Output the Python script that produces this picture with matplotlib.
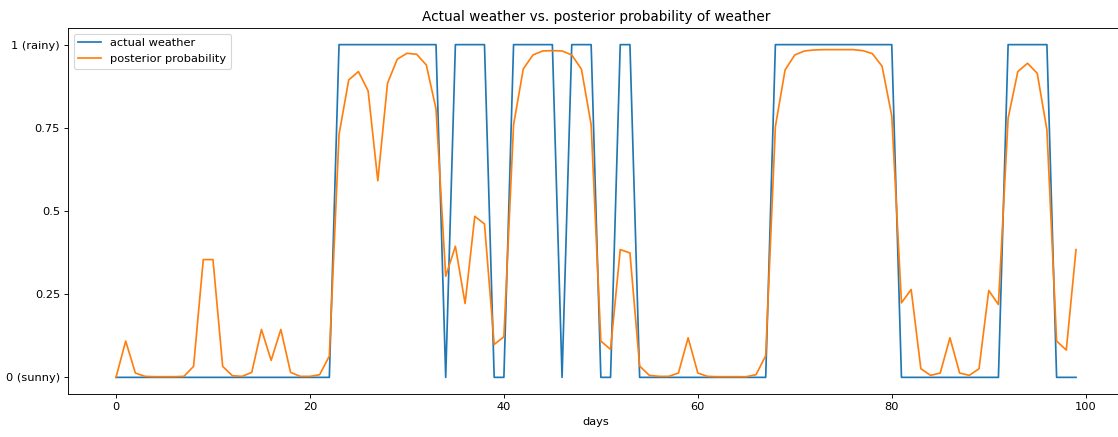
import numpy as np
import matplotlib
matplotlib.use('Agg')
import matplotlib.pyplot as plt

# actual weather per day (0 = sunny, 1 = rainy)
actual = [0]*23 + [1]*11 + [0] + [1]*4 + [0]*2 + [1]*5 + [0] + [1]*3 + [0]*2 + [1]*2 \
         + [0]*14 + [1]*13 + [0]*11 + [1]*5 + [0]*3

# posterior probability of rain
posterior = [0.000, 0.109, 0.013, 0.003, 0.002, 0.002, 0.002, 0.003, 0.033, 0.354,
             0.354, 0.033, 0.005, 0.003, 0.015, 0.144, 0.051, 0.144, 0.015, 0.003,
             0.003, 0.008, 0.064, 0.730, 0.894, 0.919, 0.861, 0.591, 0.884, 0.956,
             0.974, 0.971, 0.939, 0.807, 0.304, 0.394, 0.222, 0.484, 0.461, 0.099,
             0.122, 0.759, 0.927, 0.969, 0.981, 0.982, 0.981, 0.969, 0.926, 0.759,
             0.109, 0.084, 0.384, 0.374, 0.034, 0.006, 0.003, 0.003, 0.013, 0.119,
             0.013, 0.003, 0.002, 0.002, 0.002, 0.002, 0.008, 0.065, 0.754, 0.924,
             0.969, 0.981, 0.984, 0.985, 0.985, 0.985, 0.985, 0.982, 0.973, 0.935,
             0.786, 0.224, 0.264, 0.026, 0.006, 0.013, 0.119, 0.013, 0.006, 0.026,
             0.261, 0.219, 0.779, 0.919, 0.944, 0.914, 0.744, 0.109, 0.082, 0.384]

days = np.arange(len(actual))
ytick_vals = [0, 0.25, 0.5, 0.75, 1]
ytick_labels = ['0 (sunny)', '0.25', '0.5', '0.75', '1 (rainy)']

# the reference is cropped just before the right edge of the axes
fig = plt.figure(figsize=(1118/82, 437/82), dpi=82)
ax = fig.add_axes([68/1118, 1 - 394/437, 1056/1118, 366/437])
ax.plot(days, actual, label='actual weather')
ax.plot(days, posterior, label='posterior probability')
ax.spines['right'].set_visible(False)
ax.set_yticks(ytick_vals)
ax.set_yticklabels(ytick_labels)
ax.set_xlabel('days')
ax.set_title('Actual weather vs. posterior probability of weather')
ax.legend(loc='upper left')

fig.savefig('out.png', dpi=82)
